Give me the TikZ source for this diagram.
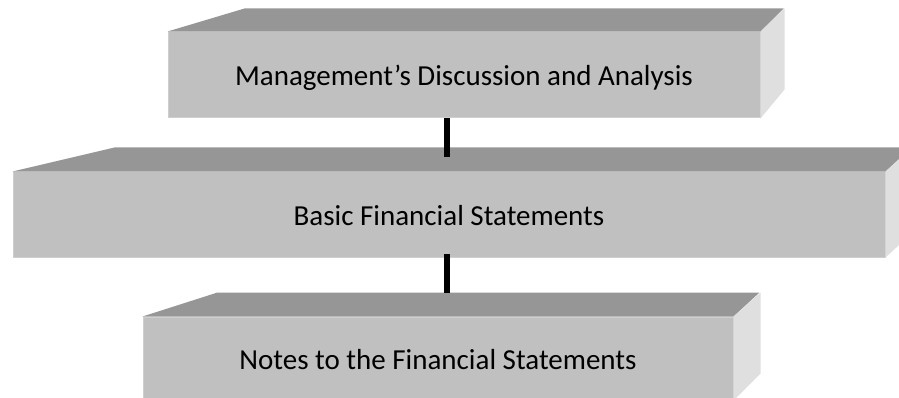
\documentclass[tikz,border=0pt]{standalone}
\usepackage{fontspec}
\setmainfont{Carlito}
\usetikzlibrary{calc}

\definecolor{slabfront}{RGB}{192,192,192}
\definecolor{slabtop}{RGB}{150,150,150}
\definecolor{slabside}{RGB}{223,223,223}
\definecolor{slabedge}{RGB}{206,206,206}

\tikzset{
  slab/.style={fill=slabfront, draw=slabedge, line width=1pt, inner sep=0pt,
    text height=22pt, text depth=0pt, font=\fontsize{29}{34}\selectfont},
  topface/.style={fill=slabtop},
  sideface/.style={fill=slabside},
  link/.style={line width=6pt, black}
}

\begin{document}
\begin{tikzpicture}[x=1pt,y=-1pt]
    \clip (0,0) rectangle (899,398);

    % front faces
    \node[slab, minimum width=592pt, minimum height=86pt] (mda) at (464,75) {Management’s Discussion and Analysis};
    \node[slab, minimum width=872pt, minimum height=85pt] (bfs) at (449,214.5) {Basic Financial Statements};
    \node[slab, minimum width=590pt, minimum height=83pt] (nfs) at (438,358.5) {Notes to the Financial Statements};

    % tops and sides
    \fill[topface] (mda.north west) -- ++(77,-23) -- ++(539,0) -- (mda.north east) -- cycle;
    \fill[sideface] (mda.north east) -- ++(24,-23) -- ++(0,81) -- (mda.south east) -- cycle;

    \fill[topface] (bfs.north west) -- ++(102,-24) -- ++(797,0) -- (bfs.north east) -- cycle;
    \fill[sideface] (bfs.north east) -- ++(27,-24) -- ++(0,85) -- (bfs.south east) -- cycle;

    \fill[topface] (nfs.north west) -- ++(75,-24) -- ++(542,0) -- (nfs.north east) -- cycle;
    \fill[sideface] (nfs.north east) -- ++(27,-24) -- ++(0,81) -- (nfs.south east) -- cycle;

    % links
    \coordinate (bfs-top) at ($(bfs.north)+(-2,-14)$);
    \coordinate (bfs-low) at ($(bfs.south)+(-2,-4)$);
    \coordinate (nfs-back) at ($(nfs.north)+(9,-24)$);
    \draw[link] (mda.south -| bfs-top) -- (bfs-top);
    \draw[link] (bfs-low) -- (nfs-back);
\end{tikzpicture}
\end{document}
